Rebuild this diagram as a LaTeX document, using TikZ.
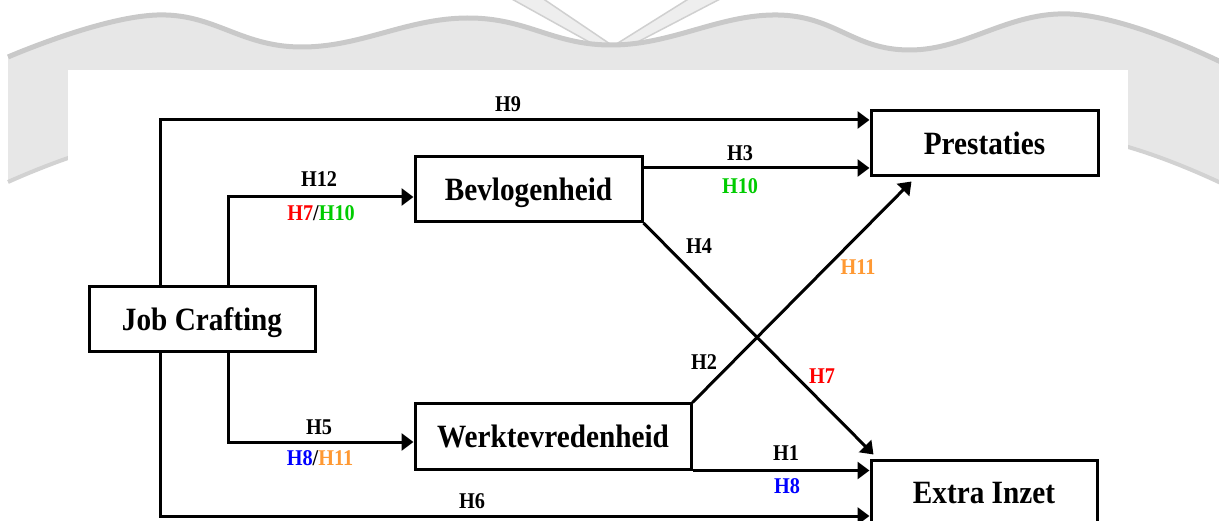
\documentclass[tikz,border=0pt]{standalone}
\usepackage{fontspec}
\setmainfont{Liberation Serif}[FakeStretch=0.9]
\usetikzlibrary{arrows.meta}
\definecolor{hred}{HTML}{FF0000}
\definecolor{hgreen}{HTML}{00CC00}
\definecolor{hblue}{HTML}{0000FF}
\definecolor{horange}{HTML}{FF9933}
\definecolor{bannerfill}{HTML}{E7E7E7}
\definecolor{bannerline}{HTML}{C9C9C9}
\definecolor{bannerlow}{HTML}{D2D2D2}
\definecolor{vfill}{HTML}{EEEEEE}
\definecolor{vline}{HTML}{D0D0D0}
\begin{document}
\begin{tikzpicture}[x=1pt,y=-1pt,
  box/.style={draw=black, line width=3pt, fill=white, minimum height=65pt, inner sep=0pt,
    text depth=0pt, font=\fontsize{32.5}{36}\selectfont\bfseries},
  lab/.style={font=\fontsize{22.5}{26}\selectfont\bfseries, inner sep=0pt},
  arr/.style={line width=3pt, -{Triangle[length=12pt,width=17pt]}},
  con/.style={line width=3pt}]
\useasboundingbox (0,0) rectangle (1219,521);
\clip (0,0) rectangle (1219,521);
% watermark V
\filldraw[fill=vfill, draw=vline, line width=1.5pt] (510,-2) -- (542,-2) -- (616,48) -- (600,48) -- cycle;
\filldraw[fill=vfill, draw=vline, line width=1.5pt] (690,-2) -- (722,-2) -- (626,48) -- (610,48) -- cycle;
% banner
\fill[bannerfill] plot[smooth, tension=0.7] coordinates {(8,57) (157,15) (300,47) (467,18) (613,45) (778,15) (910,50) (1070,14) (1225,64)}
  -- plot[smooth, tension=0.7] coordinates {(1225,185) (1070,136) (910,172) (778,137) (613,167) (467,140) (300,169) (157,137) (8,182)} -- cycle;
\draw[bannerline, line width=5pt] plot[smooth, tension=0.7] coordinates {(8,57) (157,15) (300,47) (467,18) (613,45) (778,15) (910,50) (1070,14) (1225,64)};
\draw[bannerlow, line width=4pt] plot[smooth, tension=0.7] coordinates {(8,182) (157,137) (300,169) (467,140) (613,167) (778,137) (910,172) (1070,136) (1225,185)};
\fill[white] (68,70) rectangle (1128,530);
% boxes
\node[box, minimum width=226pt] (jc) at (202,319.5) {Job Crafting};
\node[box, minimum width=227pt] (bev) at (528.5,189) {Bevlogenheid};
\node[box, minimum width=276pt] (wt) at (553,436.5) {Werktevredenheid};
\node[box, minimum width=227pt] (pr) at (984.5,143.5) {Prestaties};
\node[box, minimum width=226pt] (ei) at (984,492.5) {Extra Inzet};
% connectors
\draw[arr] ([xshift=-42pt]jc.north) |- ([yshift=23.5pt]pr.west);
\draw[arr] ([xshift=26pt]jc.north) |- ([yshift=-8pt]bev.west);
\draw[arr] ([xshift=26pt]jc.south) |- ([yshift=-5.5pt]wt.west);
\draw[arr] ([xshift=-42pt]jc.south) |- ([yshift=-23.5pt]ei.west);
\draw[arr] ([yshift=21pt]bev.east) -- ([yshift=21pt]bev.east -| pr.west);
\draw[arr] (bev.south east) -- ([shift={(4pt,4pt)}]ei.north west);
\draw[arr] (wt.north east) -- ([shift={(42pt,-4pt)}]pr.south west);
\draw[arr] (wt.south east) -- (wt.south east -| ei.west);
% labels
\node[lab] (l9) at (508,104) {H9};
\node[lab] (l12) at (319,179) {H12};
\node[lab] (l7a) at (321,213) {{\color{hred}H7}/{\color{hgreen}H10}};
\node[lab] (l3) at (740,153) {H3};
\node[lab, text=hgreen] (l10) at (740,186) {H10};
\node[lab] (l4) at (699,246) {H4};
\node[lab, text=horange] (l11) at (858,267) {H11};
\node[lab] (l2) at (704,362) {H2};
\node[lab, text=hred] (l7) at (822,376) {H7};
\node[lab] (l5) at (319,427) {H5};
\node[lab] (l8a) at (320,458) {{\color{hblue}H8}/{\color{horange}H11}};
\node[lab] (l6) at (472,501) {H6};
\node[lab] (l1) at (786,453) {H1};
\node[lab, text=hblue] (l8) at (787,486) {H8};
\end{tikzpicture}
\end{document}
